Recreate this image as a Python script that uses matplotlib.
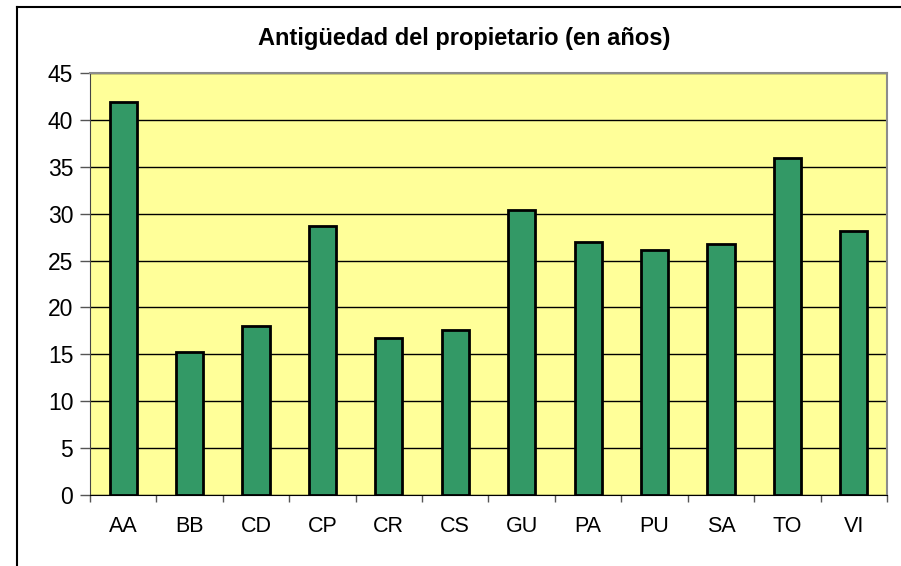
import numpy as np
import matplotlib.pyplot as plt
from matplotlib.lines import Line2D

categories = ["AA", "BB", "CD", "CP", "CR", "CS", "GU", "PA", "PU", "SA", "TO", "VI"]
values = [41.9, 15.2, 18.0, 28.7, 16.7, 17.6, 30.4, 27.0, 26.1, 26.8, 35.9, 28.1]
yticks = [0, 5, 10, 15, 20, 25, 30, 35, 40, 45]
title = "Antigüedad del propietario (en años)"

plt.rcParams['font.family'] = ['Liberation Sans', 'DejaVu Sans']

fig = plt.figure(figsize=(9.01, 5.66), dpi=100)
ax = fig.add_axes([90 / 901, 1 - 495 / 566, 797 / 901, 422 / 566])
ax.set_facecolor("#FFFF99")

x = np.arange(len(categories))
ax.bar(x, values, width=0.41, color="#339966", edgecolor="black", linewidth=2, zorder=3)

ax.set_xlim(-0.5, len(categories) - 0.5)
ax.set_ylim(0, 45)
ax.set_yticks(yticks)
ax.set_yticklabels([str(t) for t in yticks], fontsize=16.5)
ax.yaxis.grid(True, color="black", linewidth=1, zorder=1)
ax.set_axisbelow(True)

# category boundaries get tick marks, labels sit in the middle
ax.set_xticks(np.arange(len(categories) + 1) - 0.5)
ax.set_xticklabels([])
ax.set_xticks(x, minor=True)
ax.set_xticklabels(categories, minor=True, fontsize=15.5)
ax.tick_params(axis="x", which="major", length=5, width=1, color="#555555")
ax.tick_params(axis="x", which="minor", length=0, pad=15)
ax.tick_params(axis="y", length=7, width=1, color="#555555", pad=5)

for side in ["top", "right"]:
    ax.spines[side].set_color("#8c8c8c")
    ax.spines[side].set_linewidth(1.5)
ax.spines["left"].set_color("#444444")
ax.spines["bottom"].set_color("black")

fig.text(464 / 901, 1 - 39 / 566, title, ha="center", va="center",
         fontsize=17, fontweight="bold")

# outer chart frame (only left and top edges fall inside the picture)
fig.add_artist(Line2D([17 / 901, 17 / 901], [0, 1 - 7 / 566], color="black", linewidth=1.5))
fig.add_artist(Line2D([17 / 901, 1], [1 - 7 / 566, 1 - 7 / 566], color="black", linewidth=1.5))

fig.savefig("out.png", dpi=100)
